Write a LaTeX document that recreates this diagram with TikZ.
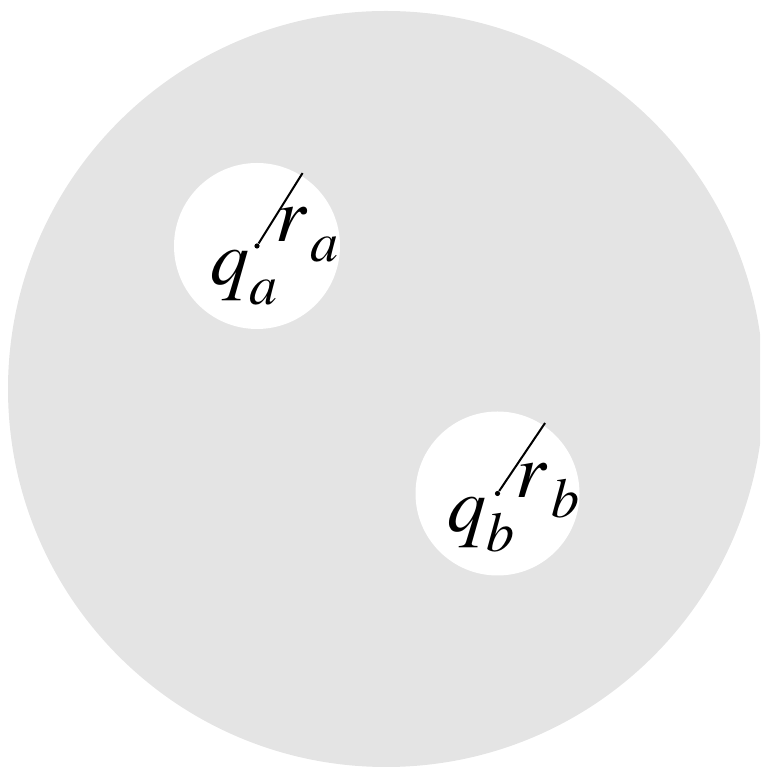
\documentclass[tikz,border=0pt]{standalone}
\usepackage{mathptmx}
\definecolor{discgray}{RGB}{228,228,228}
\newcommand{\charge}[3][0pt]{$#2$\kern#1\raisebox{-10pt}{\fontsize{28}{28}\selectfont$#3$}}

\begin{document}
\begin{tikzpicture}[x=0.5pt,y=0.5pt,
  hole/.style={fill=white},
  centre/.style={circle,fill=black,inner sep=0pt,minimum size=2.6pt},
  lbl/.style={inner sep=0pt,anchor=base west,font=\fontsize{39}{39}\selectfont}]
\clip (0,0) rectangle (760,770);
\fill[discgray] (386,381) circle (378);
\fill[hole] (257,524) circle (83);
\fill[hole] (497.5,276.5) circle (82);
\node[centre] (pa) at (257,524) {};
\node[centre] (pb) at (497.5,276.5) {};
\coordinate (ea) at ([shift={(58:86)}]pa.center);
\coordinate (eb) at ([shift={(56:85)}]pb.center);
\draw[line width=1pt] (pa) -- (ea);
\draw[line width=1pt] (pb) -- (eb);
\node[lbl] (qa) at ([shift={(-47,-39)}]pa.center) {\charge{q}{a}};
\node[lbl] (ra) at ([shift={(18,4)}]pa.center) {\charge[1.5pt]{r}{a}};
\node[lbl] (qb) at ([shift={(-50,-38)}]pb.center) {\charge{q}{b}};
\node[lbl] (rb) at ([shift={(18,-4)}]pb.center) {\charge[1.5pt]{r}{b}};
\end{tikzpicture}
\end{document}
